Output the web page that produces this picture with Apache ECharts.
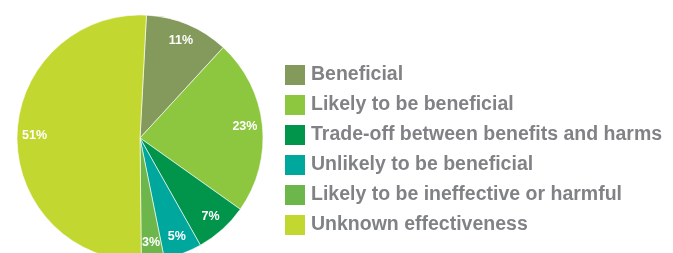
<!DOCTYPE html>
<html>
<head>
<meta charset="utf-8">
<script src="https://cdn.jsdelivr.net/npm/echarts@6/dist/echarts.min.js"></script>
<style>
  html, body { margin: 0; padding: 0; background: #fff; }
  #chart { width: 673px; height: 253px; }
</style>
</head>
<body>
<div id="chart"></div>
<script>
// categories and their shares (%)
const categories = [
  'Beneficial',
  'Likely to be beneficial',
  'Trade-off between benefits and harms',
  'Unlikely to be beneficial',
  'Likely to be ineffective or harmful',
  'Unknown effectiveness'
];
const shares = [11, 23, 7, 5, 3, 51];
const sliceColors = ['#849a5c', '#8dc63f', '#00954a', '#00a79d', '#6db64b', '#c2d72f'];

const font = '"Liberation Sans", Arial, sans-serif';

const pieData = categories.map((name, i) => ({
  name: name,
  value: shares[i],
  itemStyle: { color: sliceColors[i] }
}));

const chart = echarts.init(document.getElementById('chart'));

chart.setOption({
  animation: false,
  legend: {
    orient: 'vertical',
    left: 283,
    top: 63,
    padding: 0,
    itemWidth: 22,
    itemHeight: 22,
    itemGap: 6,
    icon: 'rect',
    selectedMode: false,
    data: categories,
    textStyle: {
      fontFamily: font,
      fontWeight: 'bold',
      fontSize: 19.5,
      color: '#808285',
      lineHeight: 22
    }
  },
  series: [
    {
      type: 'pie',
      center: [140, 138],
      radius: [0, 123],
      startAngle: 87,
      clockwise: true,
      silent: true,
      label: { show: false },
      labelLine: { show: false },
      itemStyle: { borderColor: '#ffffff', borderWidth: 0.6 },
      data: pieData
    },
    {
      // transparent ring, only used to put the % labels near the rim
      type: 'pie',
      center: [140, 138],
      radius: [82, 123],
      startAngle: 87,
      clockwise: true,
      silent: true,
      itemStyle: { color: 'rgba(0,0,0,0)' },
      label: {
        show: true,
        position: 'inside',
        formatter: '{c}%',
        color: '#ffffff',
        fontFamily: font,
        fontWeight: 'bold',
        fontSize: 12.5
      },
      labelLine: { show: false },
      data: categories.map((name, i) => ({ name: name, value: shares[i] }))
    }
  ]
});
</script>
</body>
</html>
